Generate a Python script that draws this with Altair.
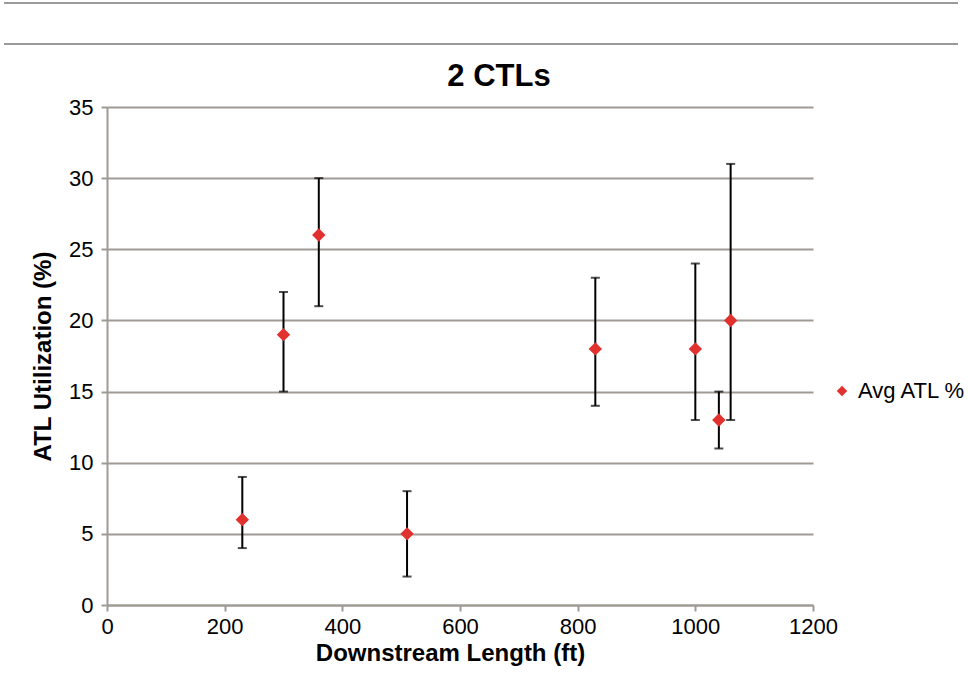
import altair as alt
import pandas as pd

length_ft = [230, 300, 360, 510, 830, 1000, 1040, 1060]
avg_atl = [6, 19, 26, 5, 18, 18, 13, 20]
low_atl = [4, 15, 21, 2, 14, 13, 11, 13]
high_atl = [9, 22, 30, 8, 23, 24, 15, 31]
series = ["Avg ATL %"] * len(length_ft)
x_ticks = [0, 200, 400, 600, 800, 1000, 1200]
y_ticks = [0, 5, 10, 15, 20, 25, 30, 35]

df = pd.DataFrame({"x": length_ft, "avg": avg_atl, "lo": low_atl, "hi": high_atl, "series": series})

FONT = "Liberation Sans"
W, H = 706, 498

xs = alt.Scale(domain=[0, 1200], nice=False)
ys = alt.Scale(domain=[0, 35], nice=False)

base = alt.Chart(df)

bars = base.mark_rule(color="black", strokeWidth=2).encode(
    x=alt.X("x:Q", scale=xs, axis=alt.Axis(
        title="Downstream Length (ft)", values=x_ticks, format="d",
        labelFlush=False, titleX=343)),
    y=alt.Y("lo:Q", scale=ys, axis=alt.Axis(
        title="ATL Utilization (%)", values=y_ticks, format="d")),
    y2="hi:Q",
)
caps_lo = base.mark_tick(color="black", orient="horizontal", size=9, thickness=2).encode(
    x=alt.X("x:Q", scale=xs), y=alt.Y("lo:Q", scale=ys))
caps_hi = base.mark_tick(color="black", orient="horizontal", size=9, thickness=2).encode(
    x=alt.X("x:Q", scale=xs), y=alt.Y("hi:Q", scale=ys))
points = base.mark_point(shape="diamond", filled=True, size=180, opacity=1).encode(
    x=alt.X("x:Q", scale=xs),
    y=alt.Y("avg:Q", scale=ys),
    color=alt.Color("series:N", scale=alt.Scale(domain=["Avg ATL %"], range=["#E0312F"]),
                    legend=alt.Legend(title=None, orient="none", legendX=724, legendY=273,
                                      labelFontSize=22, labelFont=FONT, symbolSize=110,
                                      symbolType="diamond", labelColor="black", labelLimit=0,
                                      labelOffset=5)),
)

deco = pd.DataFrame({"yy": [-104, -63]})
lines = alt.Chart(deco).mark_rule(color="#9a9a9a", strokeWidth=2, clip=False).encode(
    x=alt.value(-103), x2=alt.value(851), y=alt.Y("yy:Q", scale=None))

chart = alt.layer(lines, bars, caps_lo, caps_hi, points).properties(
    width=W, height=H,
    title=alt.TitleParams("2 CTLs", font=FONT, fontSize=31, fontWeight="bold", color="black",
                          offset=0, dx=39, dy=91),
    autosize=alt.AutoSizeParams(type="none"),
    padding={"left": 107, "top": 107, "right": 155, "bottom": 72},
).configure_view(stroke=None).configure_axis(
    labelFont=FONT, titleFont=FONT, labelFontSize=22, titleFontSize=24,
    labelColor="black", titleColor="black", titleFontWeight="bold",
    grid=False, domainColor="#a09a94", domainWidth=2, tickColor="#a09a94", tickWidth=2,
    tickSize=6,
).configure_axisY(
    grid=True, gridColor="#a09a94", gridWidth=2, titlePadding=13, labelPadding=8,
).configure_axisX(
    titlePadding=4, labelPadding=5,
)

chart.save("out.html", embed_options={"renderer": "svg", "actions": False})
